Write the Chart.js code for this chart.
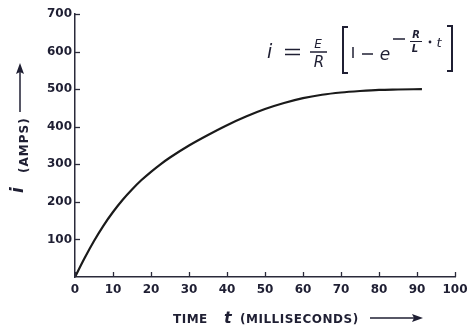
<!DOCTYPE html>
<html>
<head>
<meta charset="utf-8">
<title>Current rise in an inductive circuit</title>
<script src="https://cdn.jsdelivr.net/npm/chart.js@4.4.1/dist/chart.umd.min.js"></script>
<style>
    html, body { margin: 0; padding: 0; background: #ffffff; }
    #wrap { width: 474px; height: 333px; position: relative; }
</style>
</head>
<body>
<div id="wrap"><canvas id="riseChart"></canvas></div>
<script>
// Time in milliseconds and current in amps along the curve
const timeMs = [0, 2.5, 5, 7.5, 10, 12.5, 15, 17.5, 20, 22.5, 25, 30, 35, 40, 45, 50, 55, 60, 65, 70, 75, 80, 85, 91.3];
const currentAmps = [0, 50, 96, 137, 173, 205, 233, 258, 280, 300, 318, 350, 378, 404, 427, 447, 463, 476, 485, 491, 495, 498, 499, 500];

// Axis ticks
const timeTicks = [0, 10, 20, 30, 40, 50, 60, 70, 80, 90, 100];
const ampTicks = [100, 200, 300, 400, 500, 600, 700];

const ink = '#1f1f33';
const labelFont = '"DejaVu Sans", sans-serif';

const points = timeMs.map((t, i) => ({ x: t, y: currentAmps[i] }));

// Inward tick marks, axis titles and the formula
const decorations = {
    id: 'decorations',
    afterDraw(chart) {
        const ctx = chart.ctx;
        const xs = chart.scales.x;
        const ys = chart.scales.y;
        const area = chart.chartArea;

        ctx.save();
        ctx.strokeStyle = '#2a2a3a';
        ctx.lineWidth = 1.3;
        timeTicks.forEach(v => {
            const px = Math.round(xs.getPixelForValue(v)) + 0.5;
            line(ctx, px, area.bottom, px, area.bottom - 5);
        });
        ampTicks.forEach(v => {
            const py = Math.round(ys.getPixelForValue(v)) + 0.5;
            line(ctx, area.left, py, area.left + 5, py);
        });

        ctx.fillStyle = ink;
        ctx.strokeStyle = ink;

        // x axis title
        ctx.textBaseline = 'alphabetic';
        ctx.textAlign = 'left';
        ctx.font = 'bold 12px ' + labelFont;
        ctx.letterSpacing = '0.5px';
        ctx.fillText('TIME', 173, 323);
        ctx.fillText('(MILLISECONDS)', 240, 323);
        ctx.letterSpacing = '0px';
        ctx.font = 'italic bold 16px ' + labelFont;
        ctx.fillText('t', 224, 323);
        drawArrow(ctx, 370, 318, 423, 318);

        // y axis title, rotated
        ctx.save();
        ctx.translate(23, 0);
        ctx.rotate(-Math.PI / 2);
        ctx.font = 'italic bold 17px ' + labelFont;
        ctx.fillText('i', -193, 0);
        ctx.font = 'bold 12px ' + labelFont;
        ctx.letterSpacing = '1px';
        ctx.fillText('(AMPS)', -173, 5);
        ctx.letterSpacing = '0px';
        drawArrow(ctx, -112, -3, -63, -3);
        ctx.restore();

        // i = E/R [1 - e^(-R/L t)]
        ctx.font = 'italic 19px ' + labelFont;
        ctx.fillText('i', 267, 58);
        ctx.lineWidth = 1.5;
        line(ctx, 285, 49.5, 300, 49.5);
        line(ctx, 285, 54.5, 300, 54.5);

        ctx.textAlign = 'center';
        ctx.font = 'italic 12px ' + labelFont;
        ctx.fillText('E', 318, 48);
        ctx.font = 'italic 15px ' + labelFont;
        ctx.fillText('R', 319, 67);
        line(ctx, 310, 52, 327, 52);

        ctx.lineWidth = 2;
        ctx.beginPath();
        ctx.moveTo(348, 27); ctx.lineTo(343, 27); ctx.lineTo(343, 73); ctx.lineTo(348, 73);
        ctx.stroke();
        ctx.beginPath();
        ctx.moveTo(447, 26); ctx.lineTo(452, 26); ctx.lineTo(452, 71); ctx.lineTo(447, 71);
        ctx.stroke();

        ctx.lineWidth = 1.5;
        line(ctx, 353, 47, 353, 58);
        line(ctx, 362, 54, 373, 54);
        ctx.font = 'italic 17px ' + labelFont;
        ctx.fillText('e', 385, 60);

        line(ctx, 393, 39, 405, 39);
        ctx.font = 'italic bold 10px ' + labelFont;
        ctx.fillText('R', 416, 38);
        ctx.fillText('L', 415, 52);
        ctx.lineWidth = 1;
        line(ctx, 410, 41.5, 422, 41.5);
        ctx.beginPath();
        ctx.arc(430, 42, 1.4, 0, Math.PI * 2);
        ctx.fill();
        ctx.font = 'italic 13px ' + labelFont;
        ctx.fillText('t', 439, 47);

        ctx.restore();
    }
};

function line(ctx, x1, y1, x2, y2) {
    ctx.beginPath();
    ctx.moveTo(x1, y1);
    ctx.lineTo(x2, y2);
    ctx.stroke();
}

function drawArrow(ctx, x1, y1, x2, y2) {
    ctx.lineWidth = 1.5;
    line(ctx, x1, y1, x2 - 8, y2);
    ctx.beginPath();
    ctx.moveTo(x2, y2);
    ctx.lineTo(x2 - 11, y2 - 4);
    ctx.lineTo(x2 - 9, y2);
    ctx.lineTo(x2 - 11, y2 + 4);
    ctx.closePath();
    ctx.fill();
}

new Chart(document.getElementById('riseChart'), {
    type: 'line',
    data: {
        datasets: [{
            data: points,
            borderColor: '#1a1a1a',
            borderWidth: 2.2,
            pointRadius: 0,
            fill: false,
            cubicInterpolationMode: 'monotone'
        }]
    },
    options: {
        responsive: true,
        maintainAspectRatio: false,
        animation: false,
        layout: { padding: { top: 14, right: 19, left: 0, bottom: 0 } },
        plugins: {
            legend: { display: false },
            tooltip: { enabled: false }
        },
        scales: {
            x: {
                type: 'linear',
                min: 0,
                max: 100,
                grid: { display: false, drawTicks: false },
                border: { display: true, color: '#2a2a3a', width: 1.5 },
                afterBuildTicks: scale => { scale.ticks = timeTicks.map(v => ({ value: v })); },
                afterFit: scale => { scale.height = 56; },
                ticks: {
                    autoSkip: false,
                    maxRotation: 0,
                    padding: 6,
                    color: ink,
                    font: { family: labelFont, size: 12, weight: 'bold' }
                }
            },
            y: {
                min: 0,
                max: 700,
                grid: { display: false, drawTicks: false },
                border: { display: true, color: '#2a2a3a', width: 1.5 },
                afterBuildTicks: scale => { scale.ticks = ampTicks.map(v => ({ value: v })); },
                afterFit: scale => { scale.width = 75; },
                ticks: {
                    padding: 3,
                    color: ink,
                    font: { family: labelFont, size: 12, weight: 'bold' }
                }
            }
        }
    },
    plugins: [decorations]
});
</script>
</body>
</html>
